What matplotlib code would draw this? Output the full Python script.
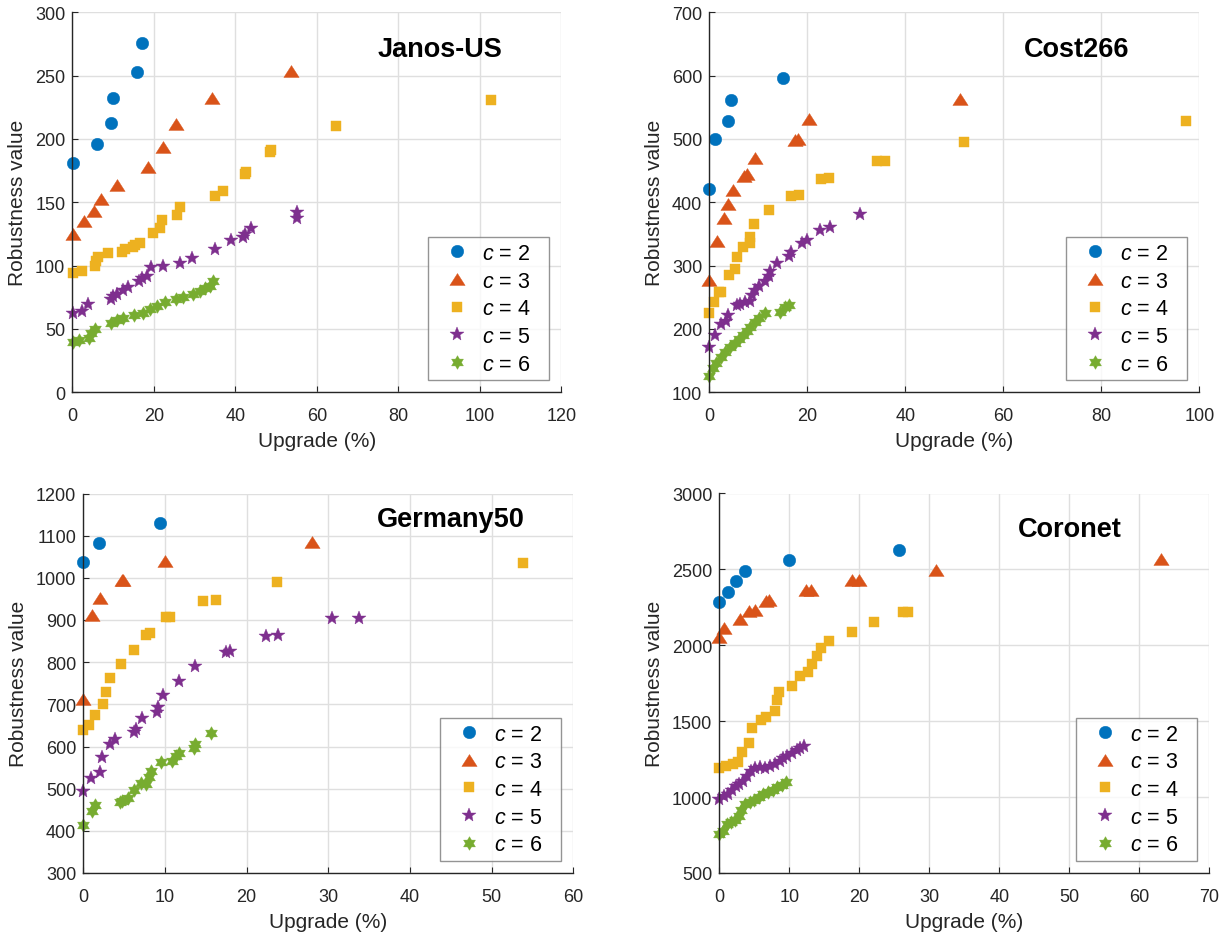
import numpy as np
import matplotlib
matplotlib.use("Agg")
import matplotlib.pyplot as plt
from matplotlib.path import Path

plt.rcParams['font.family'] = ['Liberation Sans', 'DejaVu Sans']
plt.rcParams['mathtext.fontset'] = 'custom'
plt.rcParams['mathtext.it'] = 'Liberation Sans:italic'
plt.rcParams['mathtext.rm'] = 'Liberation Sans'

# ---------------- data ----------------
titles = ["Janos-US", "Cost266", "Germany50", "Coronet"]
series_labels = ["$c$ = 2   ", "$c$ = 3   ", "$c$ = 4   ", "$c$ = 5   ", "$c$ = 6   "]

# Janos-US
janos_c2_x = [0.1, 6.0, 9.4, 9.9, 15.8, 17.0]
janos_c2_y = [181, 196, 213, 232, 253, 276]
janos_c3_x = [0.1, 2.9, 5.4, 7.0, 10.9, 18.5, 22.3, 25.4, 34.2, 53.7]
janos_c3_y = [125, 135, 143, 153, 164, 178, 194, 212, 232, 254]
janos_c4_x = [0.1, 2.5, 5.5, 5.9, 6.3, 8.8, 12.2, 13.0, 14.8, 15.5, 16.6, 19.7, 21.5, 22.0,
              25.6, 26.4, 35.1, 36.9, 42.5, 42.6, 48.5, 48.8, 64.7, 102.7]
janos_c4_y = [94, 96, 100, 104, 107, 110, 111, 113, 115, 116, 118, 126, 130, 136,
              140, 146, 155, 159, 172, 174, 190, 191, 210, 231]
janos_c5_x = [0.1, 2.5, 3.8, 9.4, 10.0, 11.0, 12.4, 13.7, 16.4, 17.1, 18.4, 19.2, 22.2,
              26.4, 29.4, 34.9, 38.9, 41.8, 42.5, 43.8, 55.1, 55.1]
janos_c5_y = [63, 64, 70, 74, 76, 78, 81, 83, 88, 90, 92, 99, 100,
              102, 106, 113, 120, 123, 125, 130, 142, 138]
janos_c6_x = [0.1, 1.7, 4.2, 4.5, 5.5, 9.4, 10.9, 12.5, 15.1, 17.4, 19.1, 20.7, 22.8,
              25.4, 27.2, 29.7, 31.3, 32.6, 33.9, 34.6]
janos_c6_y = [40, 41, 43, 47, 50, 55, 57, 59, 61, 63, 66, 68, 71,
              74, 75, 78, 80, 82, 84, 88]

# Cost266
cost_c2_x = [0.0, 1.1, 3.9, 4.5, 15.0]
cost_c2_y = [421, 500, 528, 562, 596]
cost_c3_x = [0.0, 1.6, 2.9, 3.8, 4.9, 7.1, 7.6, 9.3, 17.4, 18.0, 20.3, 51.1]
cost_c3_y = [278, 339, 376, 397, 419, 442, 444, 470, 499, 500, 532, 563]
cost_c4_x = [0.0, 1.0, 1.9, 2.4, 4.1, 5.2, 5.6, 6.9, 8.3, 8.4, 9.1, 12.1, 16.6, 18.4,
             22.7, 24.4, 34.2, 35.9, 51.9, 97.2]
cost_c4_y = [226, 242, 258, 258, 286, 294, 313, 330, 335, 346, 365, 388, 410, 412,
             437, 439, 465, 465, 496, 528]
cost_c5_x = [0.0, 1.1, 2.3, 3.5, 3.9, 5.7, 6.3, 7.3, 8.4, 8.8, 9.4, 10.2, 11.4, 12.1,
             12.4, 13.9, 16.3, 16.6, 18.9, 20.0, 22.6, 24.6, 30.7]
cost_c5_y = [171, 191, 208, 212, 222, 238, 240, 243, 244, 254, 262, 268, 276, 284,
             291, 304, 316, 322, 336, 340, 356, 361, 381]
cost_c6_x = [0.0, 0.8, 1.4, 2.3, 3.3, 4.2, 5.2, 6.0, 6.8, 7.6, 8.4, 9.3, 10.1, 11.4,
             14.4, 15.5, 16.2]
cost_c6_y = [125, 138, 146, 156, 163, 171, 178, 184, 191, 197, 203, 211, 217, 226,
             227, 235, 238]

# Germany50
ger_c2_x = [0.0, 1.9, 9.4]
ger_c2_y = [1037, 1083, 1130]
ger_c3_x = [0.0, 1.1, 2.0, 4.7, 4.9, 10.0, 28.0]
ger_c3_y = [713, 912, 953, 996, 996, 1040, 1086]
ger_c4_x = [0.0, 0.65, 1.4, 2.4, 2.8, 3.3, 4.6, 6.2, 7.7, 8.2, 10.1, 10.6, 14.6, 16.2,
            23.7, 53.9]
ger_c4_y = [640, 650, 675, 700, 730, 762, 795, 830, 865, 868, 906, 906, 945, 948,
            991, 1035]
ger_c5_x = [0.0, 1.0, 2.0, 2.3, 3.3, 3.9, 6.2, 6.4, 7.2, 9.0, 9.1, 9.7, 11.7, 13.7,
            17.5, 18.0, 22.4, 23.9, 30.4, 33.7]
ger_c5_y = [495, 526, 539, 575, 605, 617, 634, 642, 667, 683, 694, 722, 756, 790,
            825, 827, 863, 865, 904, 904]
ger_c6_x = [0.0, 1.1, 1.4, 4.5, 4.7, 5.5, 6.2, 7.1, 7.7, 8.0, 8.3, 9.5, 10.9, 11.4,
            11.7, 13.6, 13.7, 15.6]
ger_c6_y = [414, 446, 462, 468, 471, 479, 498, 514, 512, 528, 541, 563, 566, 577,
            585, 596, 605, 631]

# Coronet
cor_c2_x = [0.0, 1.3, 2.4, 3.6, 10.0, 25.7]
cor_c2_y = [2287, 2353, 2423, 2489, 2559, 2625]
cor_c3_x = [0.0, 0.6, 2.9, 4.2, 5.1, 6.6, 7.1, 12.4, 13.1, 19.0, 20.0, 31.0, 63.1]
cor_c3_y = [2054, 2115, 2173, 2225, 2230, 2291, 2296, 2362, 2362, 2427, 2432, 2494, 2566]
cor_c4_x = [0.0, 1.0, 1.9, 2.7, 3.2, 4.3, 4.7, 6.0, 6.7, 7.9, 8.2, 8.5, 10.4, 11.5,
            12.6, 13.2, 13.9, 14.5, 15.7, 19.0, 22.1, 26.2, 27.0]
cor_c4_y = [1189, 1202, 1215, 1228, 1299, 1356, 1452, 1505, 1527, 1567, 1637, 1690,
            1733, 1795, 1826, 1874, 1927, 1979, 2028, 2089, 2151, 2217, 2217]
cor_c5_x = [0.0, 0.67, 1.24, 1.81, 2.38, 2.86, 3.43, 4.0, 4.48, 5.14, 5.81, 6.57, 7.24,
            7.9, 8.67, 9.14, 9.71, 10.38, 11.05, 11.52, 12.1]
cor_c5_y = [987, 1004, 1022, 1048, 1070, 1088, 1105, 1136, 1171, 1189, 1198, 1193, 1206,
            1215, 1237, 1255, 1272, 1290, 1307, 1321, 1334]
cor_c6_x = [0.0, 0.57, 1.05, 1.62, 2.19, 2.76, 3.14, 3.71, 4.38, 4.95, 5.62, 6.29, 6.95,
            7.62, 8.29, 8.95, 9.52]
cor_c6_y = [754, 776, 820, 838, 851, 873, 917, 952, 965, 982, 1000, 1018, 1031,
            1048, 1066, 1079, 1097]

panels = [
    dict(title=titles[0],
         series=[(janos_c2_x, janos_c2_y), (janos_c3_x, janos_c3_y), (janos_c4_x, janos_c4_y),
                 (janos_c5_x, janos_c5_y), (janos_c6_x, janos_c6_y)],
         xlim=(0, 120), xstep=20, ylim=(0, 300), ystep=50),
    dict(title=titles[1],
         series=[(cost_c2_x, cost_c2_y), (cost_c3_x, cost_c3_y), (cost_c4_x, cost_c4_y),
                 (cost_c5_x, cost_c5_y), (cost_c6_x, cost_c6_y)],
         xlim=(0, 100), xstep=20, ylim=(100, 700), ystep=100),
    dict(title=titles[2],
         series=[(ger_c2_x, ger_c2_y), (ger_c3_x, ger_c3_y), (ger_c4_x, ger_c4_y),
                 (ger_c5_x, ger_c5_y), (ger_c6_x, ger_c6_y)],
         xlim=(0, 60), xstep=10, ylim=(300, 1200), ystep=100),
    dict(title=titles[3],
         series=[(cor_c2_x, cor_c2_y), (cor_c3_x, cor_c3_y), (cor_c4_x, cor_c4_y),
                 (cor_c5_x, cor_c5_y), (cor_c6_x, cor_c6_y)],
         xlim=(0, 70), xstep=10, ylim=(500, 3000), ystep=500),
]

# ---------------- styles ----------------
colors = ['#0072BD', '#D95319', '#EDB120', '#7E2F8E', '#77AC30']
tri = Path([(0, 0.78), (-1, -0.78), (1, -0.78), (0, 0.78)],
           [Path.MOVETO, Path.LINETO, Path.LINETO, Path.CLOSEPOLY])
ang = np.deg2rad(90 + 30 * np.arange(12))
rad = np.where(np.arange(12) % 2 == 0, 1.0, 0.577)
hex_verts = list(zip(rad * np.cos(ang), rad * np.sin(ang)))
hexagram = Path(hex_verts + [hex_verts[0]],
                [Path.MOVETO] + [Path.LINETO] * 11 + [Path.CLOSEPOLY])
markers = ['o', tri, 's', '*', hexagram]
msizes = [9.0, 11.0, 7.3, 10.5, 9.8]

W, H = 1223, 937
fig = plt.figure(figsize=(W / 100, H / 100), dpi=100)

# axes rectangles in pixels: left, right, top, bottom
rects = [(72.3, 561.3, 13.3, 393.3), (709.3, 1199.3, 13.3, 393.3),
         (83.3, 573.3, 494.5, 874.0), (719.3, 1209.3, 494.5, 874.0)]
title_pos = [(0.752, 0.886), (0.750, 0.886), (0.751, 0.914), (0.715, 0.889)]
axis_col = '#262626'

for p, (l, r, t, b), tp in zip(panels, rects, title_pos):
    ax = fig.add_axes([l / W, 1 - b / H, (r - l) / W, (b - t) / H])
    for (xs, ys), c, m, ms, lab in zip(p['series'], colors, markers, msizes, series_labels):
        ax.plot(xs, ys, linestyle='none', marker=m, markersize=ms, color=c,
                markeredgecolor=c, markeredgewidth=0.3, label=lab, clip_on=False, zorder=3)
    ax.set_xlim(*p['xlim'])
    ax.set_ylim(*p['ylim'])
    ax.set_xticks(np.arange(p['xlim'][0], p['xlim'][1] + 1e-9, p['xstep']))
    ax.set_yticks(np.arange(p['ylim'][0], p['ylim'][1] + 1e-9, p['ystep']))
    ax.grid(True, color='#dfdfdf', linewidth=1.0, zorder=0)
    ax.set_axisbelow(True)
    for s in ['top', 'right']:
        ax.spines[s].set_visible(False)
    for s in ['left', 'bottom']:
        ax.spines[s].set_color(axis_col)
        ax.spines[s].set_linewidth(1.0)
        ax.spines[s].set_zorder(4)
    ax.tick_params(axis='both', direction='in', length=4, width=0.8, color=axis_col,
                   labelsize=13, labelcolor=axis_col)
    ax.tick_params(axis='x', pad=10.5)
    ax.tick_params(axis='y', pad=5)
    ax.set_xlabel('Upgrade (%)', fontsize=15, color=axis_col, labelpad=5)
    ax.set_ylabel('Robustness value', fontsize=15, color=axis_col, labelpad=6)
    ax.text(tp[0], tp[1], p['title'], transform=ax.transAxes, ha='center', va='baseline',
            fontsize=19.5, fontweight='bold', color='black', zorder=5)
    leg = ax.legend(loc='lower right', fontsize=15.5, frameon=True, fancybox=False,
                    borderaxespad=0.55, labelspacing=0.31, handlelength=2.16,
                    handletextpad=0.12, borderpad=0.27, numpoints=1)
    leg.get_frame().set_edgecolor('#7a7a7a')
    leg.get_frame().set_linewidth(1.0)
    leg.set_zorder(6)

fig.savefig('out.png', dpi=100)
